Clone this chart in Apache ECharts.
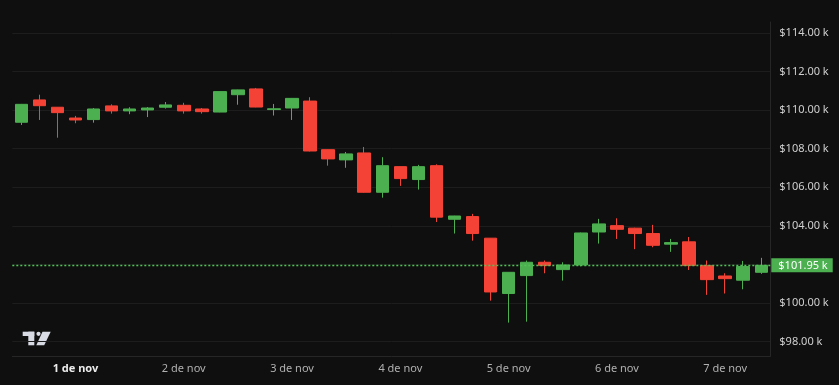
<!DOCTYPE html>
<html><head><meta charset="utf-8">
<script src="https://cdn.jsdelivr.net/npm/echarts@6/dist/echarts.min.js"></script>
<style>html,body{margin:0;padding:0;background:#0f0f0f}#c{width:839px;height:385px}</style>
</head><body><div id="c"></div>
<script>
const categories = [
  '31/10 12:00','31/10 16:00','31/10 20:00',
  '01/11 00:00','01/11 04:00','01/11 08:00','01/11 12:00','01/11 16:00','01/11 20:00',
  '02/11 00:00','02/11 04:00','02/11 08:00','02/11 12:00','02/11 16:00','02/11 20:00',
  '03/11 00:00','03/11 04:00','03/11 08:00','03/11 12:00','03/11 16:00','03/11 20:00',
  '04/11 00:00','04/11 04:00','04/11 08:00','04/11 12:00','04/11 16:00','04/11 20:00',
  '05/11 00:00','05/11 04:00','05/11 08:00','05/11 12:00','05/11 16:00','05/11 20:00',
  '06/11 00:00','06/11 04:00','06/11 08:00','06/11 12:00','06/11 16:00','06/11 20:00',
  '07/11 00:00','07/11 04:00','07/11 08:00'
];
const opens  = [109.37,110.53,110.15,109.59,109.51,110.22,109.96,110.01,110.15,110.25,110.06,109.90,110.80,111.10,110.03,
                110.11,110.47,107.95,107.42,107.78,105.74,107.07,106.40,107.12,104.34,104.48,103.36,100.49,101.42,102.11,
                101.73,101.97,103.68,104.01,103.88,103.60,103.05,103.17,101.94,101.40,101.18,101.59];
const closes = [110.30,110.23,109.87,109.49,110.06,109.96,110.06,110.11,110.27,109.96,109.92,110.96,111.05,110.16,110.07,
                110.61,107.88,107.47,107.73,105.74,107.12,106.45,107.07,104.45,104.51,103.60,100.57,101.59,102.11,101.94,
                101.97,103.63,104.10,103.82,103.60,102.99,103.13,101.94,101.21,101.26,101.89,101.95];
const lows   = [109.23,109.49,108.57,109.32,109.35,109.82,109.79,109.64,110.08,109.82,109.82,109.89,110.28,110.15,109.72,
                109.49,107.86,107.12,107.01,105.72,105.46,106.07,105.88,104.20,103.60,103.23,100.12,98.98,99.03,101.54,
                101.16,101.90,103.08,103.32,102.79,102.89,102.65,101.71,100.42,100.49,100.71,101.51];
const highs  = [110.32,110.80,110.16,109.70,110.11,110.30,110.15,110.16,110.42,110.38,110.11,110.97,111.06,111.15,110.32,
                110.63,110.67,107.96,107.83,108.09,107.56,107.08,107.16,107.19,104.52,104.62,103.37,101.60,102.20,102.20,
                102.11,103.65,104.36,104.39,103.90,104.05,103.32,103.42,102.20,101.54,102.18,102.34];
const dayLabels = ['1 de nov','2 de nov','3 de nov','4 de nov','5 de nov','6 de nov','7 de nov'];
const lastPrice = 101.95;

const UP = '#4caf50', DOWN = '#f44336';
const candleData = categories.map((c, i) => [opens[i], closes[i], lows[i], highs[i]]);

const chart = echarts.init(document.getElementById('c'), null, {renderer: 'canvas'});
chart.setOption({
  backgroundColor: '#0f0f0f',
  animation: false,
  grid: {left: 12.3, right: 68.7, top: 22, bottom: 29, containLabel: false},
  xAxis: {
    type: 'category',
    data: categories,
    boundaryGap: true,
    axisLine: {show: true, lineStyle: {color: '#262626', width: 1}},
    axisTick: {show: false},
    splitLine: {show: false},
    axisLabel: {
      interval: (i) => i % 6 === 3,
      margin: 7,
      color: '#b0b0b0',
      fontFamily: 'Noto Sans',
      fontSize: 11,
      formatter: (v, i) => {
        const k = (i - 3) / 6;
        if (i % 6 !== 3 || !dayLabels[k]) return '';
        return k === 0 ? '{b|' + dayLabels[k] + '}' : dayLabels[k];
      },
      rich: {b: {fontWeight: 'bold', color: '#ececec', fontFamily: 'Noto Sans', fontSize: 11}}
    }
  },
  yAxis: {
    type: 'value',
    position: 'right',
    min: 97.25,
    max: 114.57,
    splitNumber: 8,
    minInterval: 2,
    maxInterval: 2,
    scale: true,
    axisLine: {show: true, lineStyle: {color: '#262626', width: 1}},
    axisTick: {show: false},
    splitLine: {show: true, showMinLine: false, showMaxLine: false, lineStyle: {color: '#1d1d1d', width: 1}},
    axisLabel: {
      showMinLabel: false,
      showMaxLabel: false,
      margin: 9,
      color: '#cfcfcf',
      fontFamily: 'Noto Sans',
      fontSize: 11,
      formatter: (v) => '$' + v.toFixed(2) + ' k'
    }
  },
  series: [{
    type: 'candlestick',
    data: candleData,
    barWidth: 13,
    itemStyle: {color: UP, color0: DOWN, borderColor: UP, borderColor0: DOWN, borderWidth: 1},
    markLine: {
      silent: true,
      symbol: 'none',
      lineStyle: {color: '#52c456', type: [2, 2], width: 1.4, opacity: 1},
      label: {
        show: true,
        position: 'end',
        distance: 1,
        formatter: () => '$' + lastPrice.toFixed(2) + ' k',
        color: '#ffffff',
        backgroundColor: UP,
        padding: [2, 5, 1, 7],
        fontFamily: 'Noto Sans',
        fontSize: 11
      },
      data: [{yAxis: lastPrice}]
    }
  }],
  graphic: [
    {type: 'rect', shape: {x: 22.7, y: 331.7, width: 11.6, height: 4.3}, style: {fill: '#d8dbe4'}},
    {type: 'rect', shape: {x: 28.3, y: 331.7, width: 6, height: 13.6}, style: {fill: '#d8dbe4'}},
    {type: 'circle', shape: {cx: 38.5, cy: 333.8, r: 2.1}, style: {fill: '#d8dbe4'}},
    {type: 'polygon', shape: {points: [[42.5, 331.7], [50.7, 331.7], [44.2, 345.3], [36.3, 345.3]]}, style: {fill: '#d8dbe4'}}
  ]
});
</script>
</body></html>
